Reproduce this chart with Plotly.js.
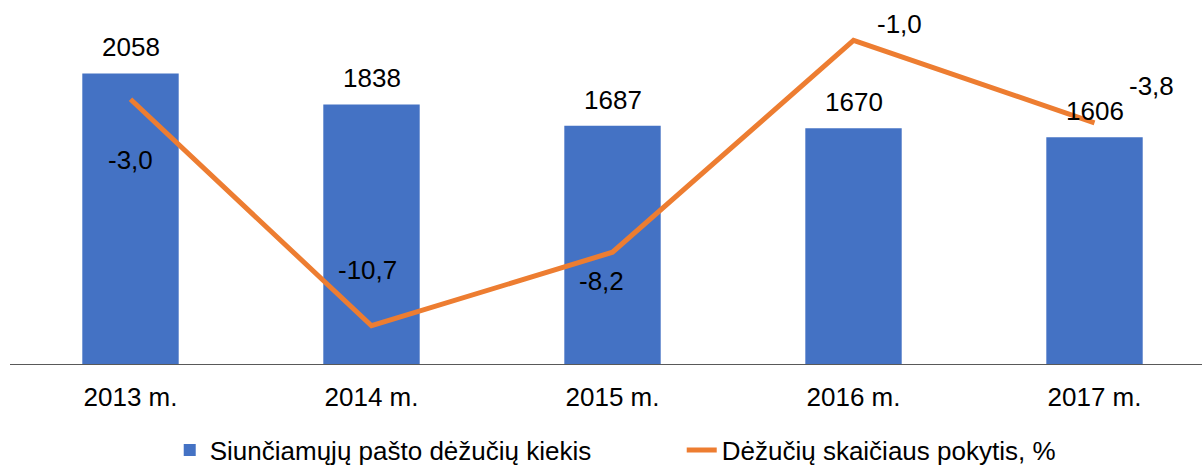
<!DOCTYPE html>
<html>
<head>
<meta charset="utf-8">
<script src="https://cdn.plot.ly/plotly-3.0.1.min.js"></script>
<style>html,body{margin:0;padding:0;background:#fff;}#chart{width:1202px;height:465px;}</style>
</head>
<body>
<div id="chart"></div>
<script>
const categories = ["2013 m.", "2014 m.", "2015 m.", "2016 m.", "2017 m."];
const boxCounts = [2058, 1838, 1687, 1670, 1606];
const changePct = [-3.0, -10.7, -8.2, -1.0, -3.8];
const barName = "Siunčiamųjų pašto dėžučių kiekis";
const lineName = "Dėžučių skaičiaus pokytis, %";

// label offsets (pixels) for the percentage labels
const lineLabelShiftX = [0, -4, -11, 46, 57];
const lineLabelShiftY = [-61, 56, -29, 16, 37];

const fontFam = "Liberation Sans, Arial, sans-serif";
const fs = 26;
const fmt = v => v.toFixed(1).replace(".", ",");

const annotations = [];
categories.forEach((c, i) => {
  annotations.push({
    x: c, y: boxCounts[i], xref: "x", yref: "y",
    text: String(boxCounts[i]), showarrow: false,
    yanchor: "middle", yshift: 26,
    font: {family: fontFam, size: fs, color: "#000"}
  });
  annotations.push({
    x: c, y: changePct[i], xref: "x", yref: "y2",
    text: fmt(changePct[i]), showarrow: false,
    yanchor: "middle", xshift: lineLabelShiftX[i], yshift: lineLabelShiftY[i],
    font: {family: fontFam, size: fs, color: "#000"}
  });
});

const data = [
  {
    type: "bar", x: categories, y: boxCounts, name: barName,
    marker: {color: "#4472C4"}, hoverinfo: "none"
  },
  {
    type: "scatter", mode: "lines", x: categories, y: changePct, name: lineName,
    yaxis: "y2", line: {color: "#ED7D31", width: 5}, hoverinfo: "none"
  }
];

const layout = {
  width: 1202, height: 465,
  margin: {l: 10, r: 0, t: 11, b: 101},
  paper_bgcolor: "#fff", plot_bgcolor: "#fff",
  font: {family: fontFam, size: fs, color: "#000"},
  bargap: 0.6,
  showlegend: true,
  legend: {
    orientation: "h", xref: "paper", x: 0.134, xanchor: "left",
    yref: "container", y: 0.032, yanchor: "middle",
    entrywidth: 467, entrywidthmode: "pixels",
    font: {family: fontFam, size: fs, color: "#000"}
  },
  xaxis: {
    type: "category", range: [-0.5, 4.446],
    showline: true, linecolor: "#595959", linewidth: 1,
    ticks: "", showgrid: false, zeroline: false, ticklabelstandoff: 10,
    tickfont: {family: fontFam, size: fs, color: "#000"}
  },
  yaxis: {
    range: [0, 2500], visible: false, showgrid: false, zeroline: false
  },
  yaxis2: {
    range: [-12, 0], overlaying: "y", side: "right",
    visible: false, showgrid: false, zeroline: false
  },
  annotations: annotations
};

Plotly.newPlot("chart", data, layout, {displayModeBar: false, staticPlot: true});
</script>
</body>
</html>
